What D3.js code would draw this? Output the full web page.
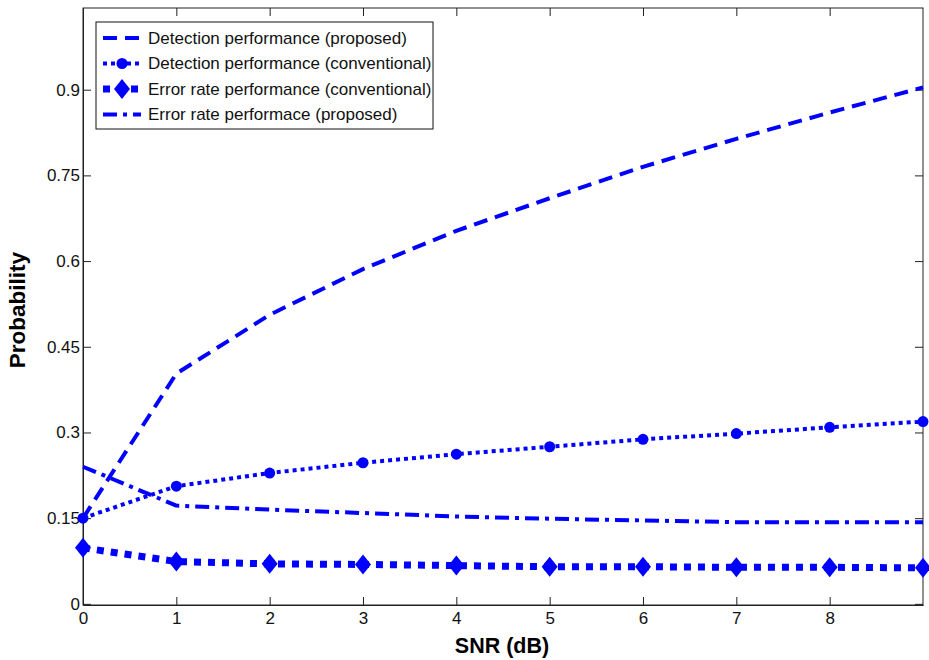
<!DOCTYPE html>
<html>
<head>
<meta charset="utf-8">
<script src="https://cdn.jsdelivr.net/npm/d3@7"></script>
<style>
  body { margin: 0; background: #fff; }
  text { font-family: "Liberation Sans", Arial, sans-serif; }
</style>
</head>
<body>
<div id="chart"></div>
<script>
// data
const snr = [0, 1, 2, 3, 4, 5, 6, 7, 8, 9];
const detProposed = [0.15, 0.403, 0.506, 0.586, 0.653, 0.710, 0.765, 0.814, 0.860, 0.904];
const detConventional = [0.15, 0.206, 0.229, 0.247, 0.262, 0.275, 0.288, 0.298, 0.309, 0.319];
const errConventional = [0.098, 0.074, 0.070, 0.069, 0.067, 0.065, 0.065, 0.064, 0.064, 0.063];
const errProposed = [0.240, 0.172, 0.165, 0.159, 0.153, 0.149, 0.146, 0.143, 0.143, 0.143];
const xTicks = [0, 1, 2, 3, 4, 5, 6, 7, 8];
const yTicks = [0, 0.15, 0.3, 0.45, 0.6, 0.75, 0.9];
const legendLabels = [
  "Detection performance (proposed)",
  "Detection performance (conventional)",
  "Error rate performance (conventional)",
  "Error rate performace (proposed)"
];

const W = 929, H = 660;
const svg = d3.select("#chart").append("svg").attr("width", W).attr("height", H);

const x = d3.scaleLinear().domain([0, 9]).range([83, 923]);
const y = d3.scaleLinear().domain([-0.002, 1.043]).range([605, 8]);
const blue = "#0000ff";

// box
svg.append("rect").attr("x", 83).attr("y", 8).attr("width", 840).attr("height", 597)
  .attr("fill", "none").attr("stroke", "#222").attr("stroke-width", 1);

// axes (inward ticks) on all four sides
svg.append("g").attr("transform", "translate(0,605)")
  .call(d3.axisBottom(x).tickValues(xTicks).tickSizeInner(-8).tickSizeOuter(0).tickPadding(7).tickFormat(d3.format("d")))
  .call(g => g.select(".domain").attr("stroke", "#222"));
svg.append("g").attr("transform", "translate(0,8)")
  .call(d3.axisTop(x).tickValues(xTicks).tickSizeInner(-8).tickSizeOuter(0).tickFormat(""))
  .call(g => g.select(".domain").remove());
svg.append("g").attr("transform", "translate(83,0)")
  .call(d3.axisLeft(y).tickValues(yTicks).tickSizeInner(-8).tickSizeOuter(0).tickPadding(3).tickFormat(d => d === 0 ? "0" : String(d)))
  .call(g => g.select(".domain").attr("stroke", "#222"));
svg.append("g").attr("transform", "translate(923,0)")
  .call(d3.axisRight(y).tickValues(yTicks).tickSizeInner(-8).tickSizeOuter(0).tickFormat(""))
  .call(g => g.select(".domain").remove());
svg.selectAll(".tick line").attr("stroke", "#222");
svg.selectAll(".tick text").attr("font-size", 17).attr("fill", "#111")
  .style("font-family", "'Liberation Sans', Arial, sans-serif");

// axis labels
svg.append("text").attr("x", 502).attr("y", 653).attr("text-anchor", "middle")
  .attr("font-size", 21.5).attr("font-weight", "bold").text("SNR (dB)");
svg.append("text").attr("transform", "translate(25,310) rotate(-90)").attr("text-anchor", "middle")
  .attr("font-size", 22.5).attr("font-weight", "bold").text("Probability");

const series = [
  { vals: detProposed, dash: "14,8", width: 4, marker: null },
  { vals: detConventional, dash: "4,4", width: 4, marker: "circle" },
  { vals: errConventional, dash: "7,7", width: 7, marker: "diamond" },
  { vals: errProposed, dash: "14,6,4,6", width: 4, marker: null }
];

const line = d3.line().x((d, i) => x(snr[i])).y(d => y(d));
const plot = svg.append("g");

function drawMarker(g, type, cx, cy) {
  if (type === "circle") {
    g.append("circle").attr("cx", cx).attr("cy", cy).attr("r", 5.5).attr("fill", blue);
  } else if (type === "diamond") {
    g.append("path").attr("transform", `translate(${cx},${cy})`)
      .attr("d", "M0,-10L8,0L0,10L-8,0Z").attr("fill", blue);
  }
}

series.forEach(s => {
  plot.append("path").datum(s.vals).attr("d", line)
    .attr("fill", "none").attr("stroke", blue).attr("stroke-width", s.width)
    .attr("stroke-dasharray", s.dash).attr("stroke-linejoin", "round");
  if (s.marker) s.vals.forEach((v, i) => drawMarker(plot, s.marker, x(snr[i]), y(v)));
});

// legend
const lg = svg.append("g");
lg.append("rect").attr("x", 96).attr("y", 22).attr("width", 337).attr("height", 107)
  .attr("fill", "#fff").attr("stroke", "#111").attr("stroke-width", 1);
series.forEach((s, i) => {
  const ly = 38 + i * 25.5;
  lg.append("line").attr("x1", 103).attr("x2", 141).attr("y1", ly).attr("y2", ly)
    .attr("stroke", blue).attr("stroke-width", s.width).attr("stroke-dasharray", s.dash);
  if (s.marker) drawMarker(lg, s.marker, 122, ly);
  lg.append("text").attr("x", 148).attr("y", ly + 5.5).attr("font-size", 17).attr("fill", "#111")
    .text(legendLabels[i]);
});
</script>
</body>
</html>
